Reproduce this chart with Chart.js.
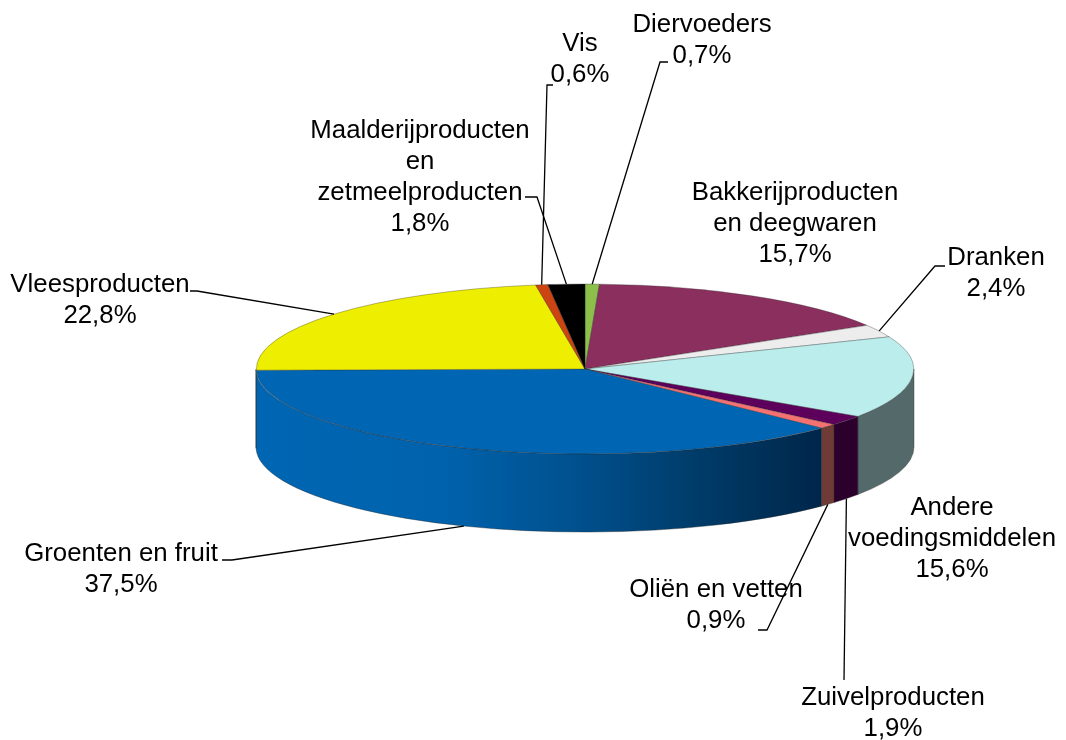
<!DOCTYPE html>
<html><head><meta charset="utf-8">
<style>html,body{margin:0;padding:0;background:#fff}#w{width:1066px;height:740px}canvas{display:block}</style>
<script src="https://cdn.jsdelivr.net/npm/chart.js@4"></script></head>
<body><div id="w"><canvas id="c" width="1066" height="740"></canvas></div>
<script>
const categories = ['Diervoeders','Bakkerijproducten en deegwaren','Dranken','Andere voedingsmiddelen','Zuivelproducten','Oliën en vetten','Groenten en fruit','Vleesproducten','Vis','Maalderijproducten en zetmeelproducten'];
const values = [0.7,15.7,2.4,15.6,1.9,0.9,37.5,22.8,0.6,1.8];
const labelLines = [['Diervoeders'],['Bakkerijproducten','en deegwaren'],['Dranken'],['Andere','voedingsmiddelen'],['Zuivelproducten'],['Oliën en vetten'],['Groenten en fruit'],['Vleesproducten'],['Vis'],['Maalderijproducten','en','zetmeelproducten']];
const topColors = ['#8CC04B','#8B2F5E','#EDEDED','#BBEDED','#5C005C','#F47272','#0066B3','#EEEE00','#CC4411','#000000'];
const sideColors = ['#46602A','#45172F','#777777','#546A6A','#2C002C','#6F3B36','#0066B3','#777700','#662208','#000000'];

const labelCenterX = [702,795,996,952,893,716,121,100,580,420];
const labelFirstY = [25,193,258,508,698,590,554,285,44,131];
const lineStep = 30.8;
const leaderElbows = [[[660,62],[668,62]],null,[[935,266],[945,266]],null,[[844,680]],[[767,630],[758,630]],[[232,560],[222,560]],[[197,291],[190,291]],[[547,85],[553,85]],[[537,197],[525,197]]];

const tilt = 0.2585, depth = 78, centerShiftY = -1;
const geom = a => { const cy = (a.top + a.bottom)/2 + centerShiftY, cx = (a.left+a.right)/2, r = (a.right-a.left)/2; return {cx,cy,r,ry:r*tilt}; };

const pie3d = {
  id:'pie3d',
  beforeDatasetsDraw(chart){
    const ctx = chart.ctx, g = geom(chart.chartArea), arcs = chart.getDatasetMeta(0).data;
    arcs.forEach((arc,i)=>{
      const a0 = Math.max(arc.startAngle,0), a1 = Math.min(arc.endAngle,Math.PI);
      if (a1 <= a0) return;
      ctx.save();
      ctx.beginPath();
      ctx.ellipse(g.cx,g.cy,g.r,g.ry,0,a0,a1,false);
      ctx.lineTo(g.cx+g.r*Math.cos(a1),g.cy+g.ry*Math.sin(a1)+depth);
      ctx.ellipse(g.cx,g.cy+depth,g.r,g.ry,0,a1,a0,true);
      ctx.closePath();
      if (i===6){
        const gr = ctx.createLinearGradient(g.cx+g.r*Math.cos(a1),0,g.cx+g.r*Math.cos(a0),0);
        gr.addColorStop(0,'#0066B3'); gr.addColorStop(.33,'#0062AC');
        gr.addColorStop(.55,'#005290'); gr.addColorStop(.8,'#003A66'); gr.addColorStop(1,'#00264A');
        ctx.fillStyle = gr;
      } else ctx.fillStyle = sideColors[i];
      ctx.fill();
      ctx.strokeStyle='rgba(40,40,40,.55)'; ctx.lineWidth=.7; ctx.stroke();
      ctx.restore();
    });
    ctx.save();
    ctx.translate(g.cx,g.cy); ctx.scale(1,tilt); ctx.translate(-g.cx,-(g.cy-centerShiftY));
  },
  afterDatasetsDraw(chart){
    const ctx = chart.ctx; ctx.restore();
    const g = geom(chart.chartArea), arcs = chart.getDatasetMeta(0).data;
    ctx.save();
    ctx.strokeStyle='#000'; ctx.lineWidth=1.3;
    arcs.forEach((arc,i)=>{
      const el = leaderElbows[i]; if(!el) return;
      const m = (arc.startAngle+arc.endAngle)/2;
      const x = g.cx+g.r*Math.cos(m);
      let y = g.cy+g.ry*Math.sin(m);
      if (Math.sin(m)>0) y += depth;
      ctx.beginPath(); ctx.moveTo(x,y);
      el.forEach(p=>ctx.lineTo(p[0],p[1]));
      ctx.stroke();
    });
    ctx.fillStyle='#000'; ctx.font='25.8px "Liberation Sans", Arial, sans-serif';
    ctx.textAlign='center'; ctx.textBaseline='middle';
    categories.forEach((c,i)=>{
      const lines = labelLines[i].concat(values[i].toFixed(1).replace('.',',')+'%');
      lines.forEach((t,j)=>ctx.fillText(t,labelCenterX[i],labelFirstY[i]+j*lineStep));
    });
    ctx.restore();
  }
};

new Chart(document.getElementById('c'),{
  type:'pie',
  data:{labels:categories,datasets:[{data:values,backgroundColor:topColors,borderColor:'rgba(40,40,40,.75)',borderWidth:.7,borderAlign:'center',hoverOffset:0}]},
  options:{
    responsive:false,animation:false,
    layout:{padding:{left:256,right:152,top:41,bottom:41}},
    events:[],
    plugins:{legend:{display:false},tooltip:{enabled:false}}
  },
  plugins:[pie3d]
});
</script></body></html>
